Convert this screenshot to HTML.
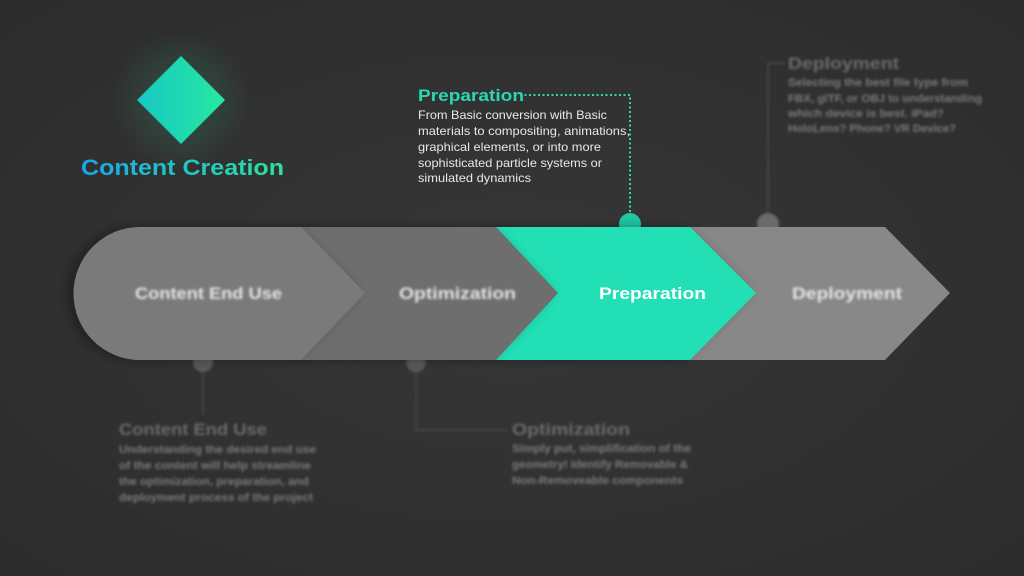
<!DOCTYPE html>
<html><head><meta charset="utf-8"><style>
html,body{margin:0;padding:0;background:#323232;}
svg{display:block;font-family:"Liberation Sans",sans-serif;}
</style></head><body>
<svg width="1024" height="576" viewBox="0 0 1024 576" xmlns="http://www.w3.org/2000/svg">
<defs>
<radialGradient id="bg" cx="50%" cy="50%" r="70%"><stop offset="0" stop-color="#373737"/><stop offset="1" stop-color="#2c2c2c"/></radialGradient>
<linearGradient id="dia" x1="0" y1="0" x2="1" y2="0"><stop offset="0" stop-color="#18c8c4"/><stop offset="1" stop-color="#26e8a0"/></linearGradient>
<linearGradient id="cc" x1="0" y1="0" x2="1" y2="0"><stop offset="0" stop-color="#18a6ea"/><stop offset="1" stop-color="#2ae39c"/></linearGradient>
<radialGradient id="glow"><stop offset="0" stop-color="#2ee0a0" stop-opacity="0.2"/><stop offset="1" stop-color="#2ee0a0" stop-opacity="0"/></radialGradient>
<filter id="bl" x="-10%" y="-10%" width="120%" height="120%"><feGaussianBlur stdDeviation="1.3"/></filter>
<filter id="sh" x="-20%" y="-20%" width="140%" height="140%"><feDropShadow dx="-6" dy="0" stdDeviation="6" flood-color="#000" flood-opacity="0.35"/></filter>
</defs>
<rect width="1024" height="576" fill="url(#bg)"/>

<circle cx="181" cy="100" r="70" fill="url(#glow)"/>
<polygon points="181,56 225,100 181,144 137,100" fill="url(#dia)"/>
<text x="81" y="175" font-size="22" font-weight="bold" fill="url(#cc)" textLength="203" lengthAdjust="spacingAndGlyphs">Content Creation</text>

<g filter="url(#bl)" stroke="#4a4a4a" stroke-width="1.5" fill="none">
<polyline points="768,222 768,63 785,63"/>
<line x1="203" y1="362" x2="203" y2="415"/>
<polyline points="416,362 416,430 508,430"/>
</g>
<polyline points="520,95 630,95 630,222" stroke="#2ad8b0" stroke-width="2" stroke-dasharray="2,2.5" fill="none"/>
<circle cx="768" cy="224" r="11" fill="#6a6a6a" filter="url(#bl)"/>
<circle cx="630" cy="224" r="11" fill="#22c9a3"/>
<circle cx="203" cy="362" r="10" fill="#5a5a5a" filter="url(#bl)"/>
<circle cx="416" cy="362" r="10" fill="#5a5a5a" filter="url(#bl)"/>

<polygon points="690,227 885,227 950,293 885,360 690,360" fill="#888"/>
<polygon points="496,227 690,227 756,293 690,360 496,360" fill="#20dfb5" filter="url(#sh)"/>
<polygon points="301,227 496,227 558,293 496,360 301,360" fill="#6e6e6e" filter="url(#sh)"/>
<path d="M140,227 L301,227 L365,293 L301,360 L140,360 A66.5,66.5 0 0 1 140,227 Z" fill="#7a7a7a" filter="url(#sh)"/>

<g font-weight="bold" font-size="17" filter="url(#bl)" fill="#e6e6e6">
<text x="135" y="299" textLength="147" lengthAdjust="spacingAndGlyphs">Content End Use</text>
<text x="399" y="299" textLength="117" lengthAdjust="spacingAndGlyphs">Optimization</text>
<text x="792" y="299" textLength="110" lengthAdjust="spacingAndGlyphs">Deployment</text>
</g>
<text x="599" y="299" font-weight="bold" font-size="17" fill="#fff" textLength="107" lengthAdjust="spacingAndGlyphs">Preparation</text>

<text x="418" y="101" font-size="17" font-weight="bold" fill="#2ad8b0" textLength="106" lengthAdjust="spacingAndGlyphs">Preparation</text>
<g font-size="12" fill="#e8e8e8">
<text x="418" y="119" textLength="189" lengthAdjust="spacingAndGlyphs">From Basic conversion with Basic</text>
<text x="418" y="135" textLength="212" lengthAdjust="spacingAndGlyphs">materials to compositing, animations,</text>
<text x="418" y="151" textLength="183" lengthAdjust="spacingAndGlyphs">graphical elements, or into more</text>
<text x="418" y="167" textLength="184" lengthAdjust="spacingAndGlyphs">sophisticated particle systems or</text>
<text x="418" y="182" textLength="113" lengthAdjust="spacingAndGlyphs">simulated dynamics</text>
</g>

<g filter="url(#bl)">
<g font-size="17" font-weight="bold" fill="#6a6a6a">
<text x="788" y="69" textLength="111" lengthAdjust="spacingAndGlyphs">Deployment</text>
<text x="119" y="435" textLength="148" lengthAdjust="spacingAndGlyphs">Content End Use</text>
<text x="512" y="435" textLength="118" lengthAdjust="spacingAndGlyphs">Optimization</text>
</g>
<g font-size="11" font-weight="bold" fill="#7a7a7a">
<text x="788" y="86" textLength="180" lengthAdjust="spacingAndGlyphs">Selecting the best file type from</text>
<text x="788" y="102" textLength="194" lengthAdjust="spacingAndGlyphs">FBX, glTF, or OBJ to understanding</text>
<text x="788" y="117" textLength="156" lengthAdjust="spacingAndGlyphs">which device is best. iPad?</text>
<text x="788" y="132" textLength="168" lengthAdjust="spacingAndGlyphs">HoloLens? Phone? VR Device?</text>
<text x="119" y="453" textLength="197" lengthAdjust="spacingAndGlyphs">Understanding the desired end use</text>
<text x="119" y="469" textLength="192" lengthAdjust="spacingAndGlyphs">of the content will help streamline</text>
<text x="119" y="485" textLength="190" lengthAdjust="spacingAndGlyphs">the optimization, preparation, and</text>
<text x="119" y="501" textLength="194" lengthAdjust="spacingAndGlyphs">deployment process of the project</text>
<text x="512" y="452" textLength="179" lengthAdjust="spacingAndGlyphs">Simply put, simplification of the</text>
<text x="512" y="468" textLength="176" lengthAdjust="spacingAndGlyphs">geometry! Identify Removable &amp;</text>
<text x="512" y="484" textLength="171" lengthAdjust="spacingAndGlyphs">Non-Removeable components</text>
</g>
</g>
</svg>
</body></html>
